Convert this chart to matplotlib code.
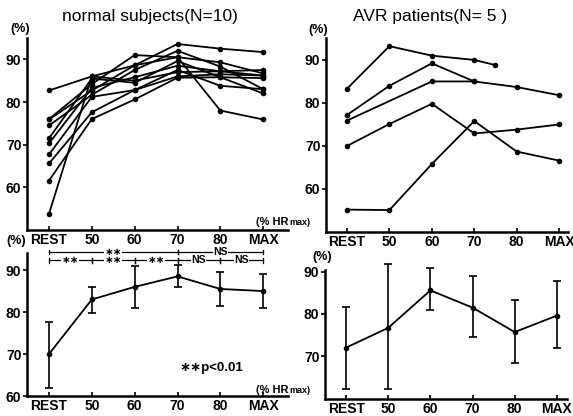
import matplotlib.pyplot as plt

plt.rcParams['font.family'] = ['Liberation Sans', 'DejaVu Sans']
plt.rcParams['font.weight'] = 'bold'

stages = ['REST', '50', '60', '70', '80', 'MAX']

# normal subjects, one row per subject (REST, 50, 60, 70, 80, MAX)
normal_1 = [82.7, 86.0, 85.0, 87.0, 87.2, 86.2]
normal_2 = [76.0, 84.2, 91.0, 90.5, 89.3, 86.7]
normal_3 = [75.9, 82.7, 88.6, 93.6, 92.5, 91.7]
normal_4 = [74.5, 81.7, 87.5, 92.0, 88.3, 83.0]
normal_5 = [71.5, 85.5, 84.5, 89.6, 85.8, 82.0]
normal_6 = [70.3, 83.3, 85.8, 88.5, 87.2, 87.5]
normal_7 = [67.7, 81.2, 82.8, 87.5, 83.8, 83.0]
normal_8 = [65.6, 77.6, 82.8, 86.0, 86.5, 86.2]
normal_9 = [61.6, 76.0, 80.6, 85.7, 85.8, 85.6]
normal_10 = [53.8, 86.0, 88.6, 90.5, 78.0, 75.9]
normal_all = [normal_1, normal_2, normal_3, normal_4, normal_5,
              normal_6, normal_7, normal_8, normal_9, normal_10]

# AVR patients: stage index of each reading and the reading
avr_x = [[0, 1, 2, 3, 3.5],
         [0, 1, 2, 3, 4, 5],
         [0, 2, 3],
         [0, 1, 2, 3, 4, 5],
         [0, 1, 2, 3, 4, 5]]
avr_y = [[83.3, 93.2, 91.0, 90.0, 88.8],
         [77.2, 84.0, 89.2, 85.0, 83.7, 81.8],
         [75.9, 85.0, 85.0],
         [70.0, 75.1, 79.8, 72.9, 73.8, 75.0],
         [55.2, 55.1, 65.8, 75.8, 68.7, 66.6]]

# mean with error bar ends
normal_mean = [70.0, 83.0, 86.0, 88.5, 85.5, 85.0]
normal_low = [62.0, 79.8, 81.0, 86.0, 81.5, 81.0]
normal_high = [77.7, 86.0, 91.0, 91.2, 89.5, 89.0]

avr_mean = [72.0, 76.7, 85.6, 81.5, 75.7, 79.6]
avr_low = [62.1, 62.1, 80.9, 74.6, 68.4, 72.0]
avr_high = [81.7, 91.9, 90.8, 88.9, 83.3, 87.9]

# significance: (from, to, label)
sig_top = [(0, 3, '∗∗'), (3, 5, 'NS')]
sig_bottom = [(0, 1, '∗∗'), (1, 2, '∗∗'), (2, 3, '∗∗'), (3, 4, 'NS'), (4, 5, 'NS')]

W, H = 573, 416
fig = plt.figure(figsize=(W / 100, H / 100), dpi=100)


def px_rect(l, t, r, b):
    return [l / W, 1 - b / H, (r - l) / W, (b - t) / H]


def style(ax, ylim, xlim, yticks, spine_top=None, xpad=3):
    ax.set_ylim(*ylim)
    ax.set_xlim(*xlim)
    for s in ['top', 'right']:
        ax.spines[s].set_visible(False)
    for s in ['left', 'bottom']:
        ax.spines[s].set_linewidth(1.8)
    if spine_top is not None:
        ax.spines['left'].set_bounds(ylim[0], spine_top)
    ax.set_yticks(yticks)
    ax.set_xticks(range(len(stages)))
    ax.set_xticklabels(stages)
    ax.tick_params(axis='y', direction='out', length=3, width=1.2, labelsize=10, pad=1)
    ax.tick_params(axis='x', direction='in', length=3, width=1.2, labelsize=10, pad=xpad)
    ax.patch.set_alpha(0)


def hr_label(x, y):
    # "(% HRmax)" with a smaller "max"
    t = fig.text(x / W, 1 - y / H, '(% HR', ha='left', va='baseline', fontsize=8)
    fig.canvas.draw()
    bb = t.get_window_extent()
    fig.text(bb.x1 / W + 0.002, 1 - y / H, 'max)', ha='left', va='baseline', fontsize=6.5)


line_kw = dict(color='black', lw=1.3, marker='o', ms=3)

# top left
ax1 = fig.add_axes(px_rect(27, 38, 288, 230))
for row in normal_all:
    ax1.plot(range(len(stages)), row, **line_kw)
style(ax1, (50, 95), (-0.514, 5.58), [60, 70, 80, 90], xpad=2)
fig.text(150 / W, 1 - 17 / H, 'normal subjects(N=10)', ha='center', va='center',
         fontsize=12.5, fontweight='normal')
fig.text(20 / W, 1 - 29 / H, '(%)', ha='center', va='center', fontsize=9)
hr_label(256, 225)

# top right
ax2 = fig.add_axes(px_rect(326, 38, 568, 232))
for xs, ys in zip(avr_x, avr_y):
    ax2.plot(xs, ys, **line_kw)
style(ax2, (50, 95.1), (-0.495, 5.21), [60, 70, 80, 90], xpad=2)
fig.text(430 / W, 1 - 17 / H, 'AVR patients(N= 5 )', ha='center', va='center',
         fontsize=12.5, fontweight='normal')
fig.text(318 / W, 1 - 30 / H, '(%)', ha='center', va='center', fontsize=9)

# bottom left
ax3 = fig.add_axes(px_rect(27, 247, 288, 396))
xi = list(range(len(stages)))
ax3.errorbar(xi, normal_mean,
             yerr=[[m - lo for m, lo in zip(normal_mean, normal_low)],
                   [hi - m for m, hi in zip(normal_mean, normal_high)]],
             color='black', lw=1.3, elinewidth=1.2, capsize=3, capthick=1.2,
             marker='o', ms=3)
style(ax3, (60, 95.5), (-0.514, 5.58), [60, 70, 80, 90], spine_top=94, xpad=2)
fig.text(16 / W, 1 - 241 / H, '(%)', ha='center', va='center', fontsize=9)
hr_label(256, 393)
ax3.text(3.8, 66.7, '∗∗p<0.01', ha='center', va='center', fontsize=9.5)

for level, groups in [(94.4, sig_top), (92.3, sig_bottom)]:
    for a, b, lab in groups:
        ax3.plot([a, b], [level, level], color='black', lw=0.9, clip_on=False)
        for x in (a, b):
            ax3.plot([x, x], [level - 0.5, level + 0.5], color='black', lw=0.9, clip_on=False)
        ax3.text((a + b) / 2, level, lab, ha='center', va='center', fontsize=7.5,
                 bbox=dict(facecolor='white', edgecolor='none', pad=0.2), clip_on=False)

# bottom right
ax4 = fig.add_axes(px_rect(325, 255, 567, 399))
ax4.errorbar(xi, avr_mean,
             yerr=[[m - lo for m, lo in zip(avr_mean, avr_low)],
                   [hi - m for m, hi in zip(avr_mean, avr_high)]],
             color='black', lw=1.3, elinewidth=1.2, capsize=3, capthick=1.2,
             marker='o', ms=3)
style(ax4, (59.8, 94), (-0.5, 5.24), [70, 80, 90], spine_top=90.5, xpad=2)
fig.text(322 / W, 1 - 257 / H, '(%)', ha='center', va='center', fontsize=9)

fig.savefig('out.png', dpi=100)
